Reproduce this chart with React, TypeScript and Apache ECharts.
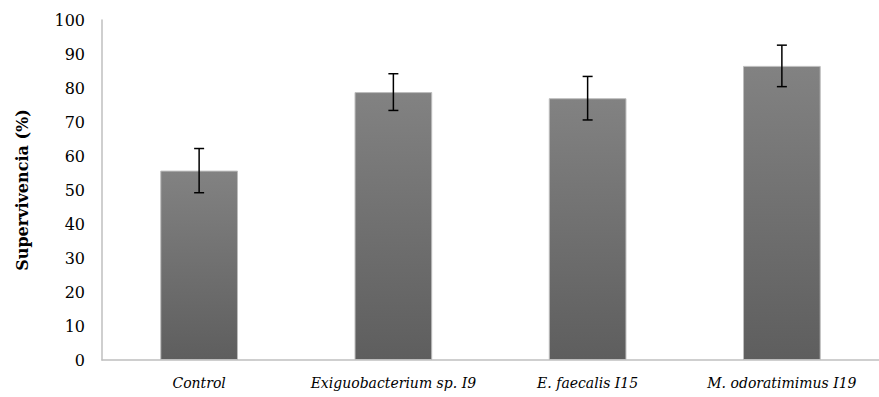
import React, { useEffect, useRef } from "react";
import * as echarts from "echarts";

const categories = ["Control", "Exiguobacterium sp. I9", "E. faecalis I15", "M. odoratimimus I19"];
const survival = [55.7, 78.8, 77.0, 86.5];
const errors = [6.5, 5.4, 6.4, 6.1];
const yTicks = { min: 0, max: 100, interval: 10 };

const FONT = "DejaVu Serif";

export default function App() {
  const ref = useRef<HTMLDivElement>(null);
  useEffect(() => {
    document.body.style.margin = "0";
    const chart = echarts.init(ref.current!, null, { renderer: "svg" });
    chart.setOption({
      animation: false,
      textStyle: { fontFamily: FONT },
      grid: { left: 102, right: -9, top: 20, bottom: 37 },
      xAxis: {
        type: "category",
        data: categories,
        axisLine: { lineStyle: { color: "#bfbfbf", width: 1.5 } },
        axisTick: { show: false },
        axisLabel: {
          color: "#000",
          fontFamily: FONT,
          fontStyle: "italic",
          fontSize: 14,
          margin: 16,
          interval: 0,
        },
      },
      yAxis: {
        type: "value",
        min: yTicks.min,
        max: yTicks.max,
        interval: yTicks.interval,
        name: "Supervivencia (%)",
        nameLocation: "middle",
        nameGap: 72,
        nameTextStyle: { color: "#000", fontFamily: FONT, fontWeight: "bold", fontSize: 16 },
        axisLine: { show: true, lineStyle: { color: "#bfbfbf", width: 1.5 } },
        axisTick: { show: false },
        splitLine: { show: false },
        axisLabel: { color: "#000", fontFamily: FONT, fontSize: 16, margin: 17 },
      },
      series: [
        {
          type: "bar",
          data: survival,
          barWidth: "40%",
          itemStyle: {
            color: new echarts.graphic.LinearGradient(0, 0, 0, 1, [
              { offset: 0, color: "#828282" },
              { offset: 1, color: "#5e5e5e" },
            ]),
            borderColor: "#bdbdbd",
            borderWidth: 1,
          },
        },
        {
          type: "custom",
          data: survival.map((v, i) => [i, v - errors[i], v + errors[i]]),
          z: 10,
          renderItem: (params: any, api: any) => {
            const x = api.value(0);
            const lo = api.coord([x, api.value(1)]);
            const hi = api.coord([x, api.value(2)]);
            const hw = 5;
            const style = { stroke: "#000", lineWidth: 1.5 };
            return {
              type: "group",
              children: [
                { type: "line", shape: { x1: lo[0], y1: lo[1], x2: hi[0], y2: hi[1] }, style },
                { type: "line", shape: { x1: hi[0] - hw, y1: hi[1], x2: hi[0] + hw, y2: hi[1] }, style },
                { type: "line", shape: { x1: lo[0] - hw, y1: lo[1], x2: lo[0] + hw, y2: lo[1] }, style },
              ],
            };
          },
        },
      ],
    });
    return () => chart.dispose();
  }, []);
  return <div ref={ref} style={{ width: 879, height: 397 }} />;
}
